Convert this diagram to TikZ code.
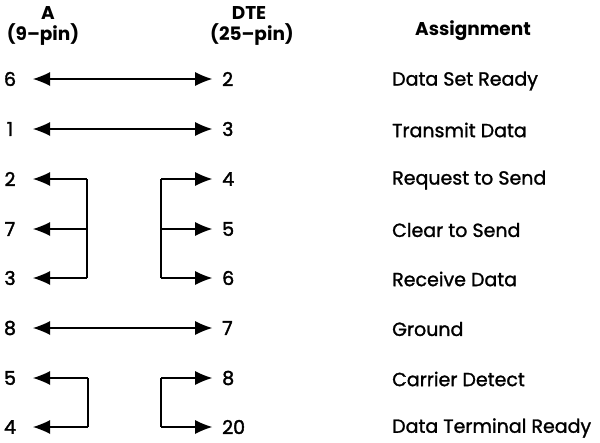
\documentclass[tikz,border=0pt]{standalone}
\usepackage{fontspec}
\setmainfont{Poppins}
\newfontfamily\medfont[FakeBold=1.3]{Poppins}
\newfontfamily\pinfont[FakeBold=2]{Poppins}
\usetikzlibrary{arrows.meta}
\begin{document}
\begin{tikzpicture}[x=1pt,y=-1pt,
  every node/.style={font=\fontsize{19}{22}\selectfont\medfont},
  lpin/.style={minimum width=46pt,inner ysep=0pt,inner xsep=0pt,font=\fontsize{19}{22}\selectfont\pinfont},
  rpin/.style={anchor=west,inner xsep=10pt,inner ysep=0pt,font=\fontsize{19}{22}\selectfont\pinfont},
  assign/.style={anchor=west,inner sep=0pt},
  head/.style={font=\fontsize{18.5}{21}\selectfont\bfseries,inner sep=0pt},
  wire/.style={line width=2pt},
  onehead/.style={-{Latex[length=17pt,width=14pt,inset=5pt,line width=0pt]}},
  twoheads/.style={{Latex[length=17pt,width=14pt,inset=5pt,line width=0pt]}-{Latex[length=17pt,width=14pt,inset=5pt,line width=0pt]}}]
\useasboundingbox (0,0) rectangle (600,442);
% headers
\node[head] (hA) at (48,13) {A};
\node[head] (hA2) at (43,35) {(9–pin)};
\node[head] (hD) at (249,13) {DTE};
\node[head] (hD2) at (252,35) {(25–pin)};
\node[head] (hS) at (473,31) {Assignment};
% left pins
\node[lpin] (l6) at (10,79) {6};
\node[lpin] (l1) at (10,129) {1};
\node[lpin] (l2) at (10,179) {2};
\node[lpin] (l7) at (10,229) {7};
\node[lpin] (l3) at (10,278) {3};
\node[lpin] (l8) at (10,328) {8};
\node[lpin] (l5) at (10,378) {5};
\node[lpin] (l4) at (10,427) {4};
% right pins
\node[rpin] (r2) at (212,79) {2};
\node[rpin] (r3) at (212,129) {3};
\node[rpin] (r4) at (212,179) {4};
\node[rpin] (r5) at (212,229) {5};
\node[rpin] (r6) at (212,278) {6};
\node[rpin] (r7) at (212,328) {7};
\node[rpin] (r8) at (212,378) {8};
\node[rpin] (r20) at (212,427) {20};
% assignments
\node[assign] (a1) at (392,81) {Data Set Ready};
\node[assign] (a2) at (392,130) {Transmit Data};
\node[assign] (a3) at (392,180) {Request to Send};
\node[assign] (a4) at (392,230) {Clear to Send};
\node[assign] (a5) at (392,279) {Receive Data};
\node[assign] (a6) at (392,329) {Ground};
\node[assign] (a7) at (392,379) {Carrier Detect};
\node[assign] (a8) at (392,428) {Data Terminal Ready};
% straight connections
\draw[wire,twoheads] (l6) -- (r2);
\draw[wire,twoheads] (l1) -- (r3);
\draw[wire,twoheads] (l8) -- (r7);
% bracket coordinates
\coordinate (bl2) at (87,179);
\coordinate (bl7) at (87,229);
\coordinate (bl3) at (87,278);
\coordinate (br4) at (161,179);
\coordinate (br5) at (161,229);
\coordinate (br6) at (161,278);
\coordinate (bl5) at (88,378);
\coordinate (bl4) at (88,427);
\coordinate (br8) at (161,378);
\coordinate (br20) at (161,427);
\draw[wire] (bl2) -- (bl3);
\draw[wire] (br4) -- (br6);
\draw[wire] (bl5) -- (bl4);
\draw[wire] (br8) -- (br20);
\draw[wire,onehead] (bl2) -- (l2);
\draw[wire,onehead] (bl7) -- (l7);
\draw[wire,onehead] (bl3) -- (l3);
\draw[wire,onehead] (br4) -- (r4);
\draw[wire,onehead] (br5) -- (r5);
\draw[wire,onehead] (br6) -- (r6);
\draw[wire,onehead] (bl5) -- (l5);
\draw[wire,onehead] (bl4) -- (l4);
\draw[wire,onehead] (br8) -- (r8);
\draw[wire,onehead] (br20) -- (r20);
\end{tikzpicture}
\end{document}
